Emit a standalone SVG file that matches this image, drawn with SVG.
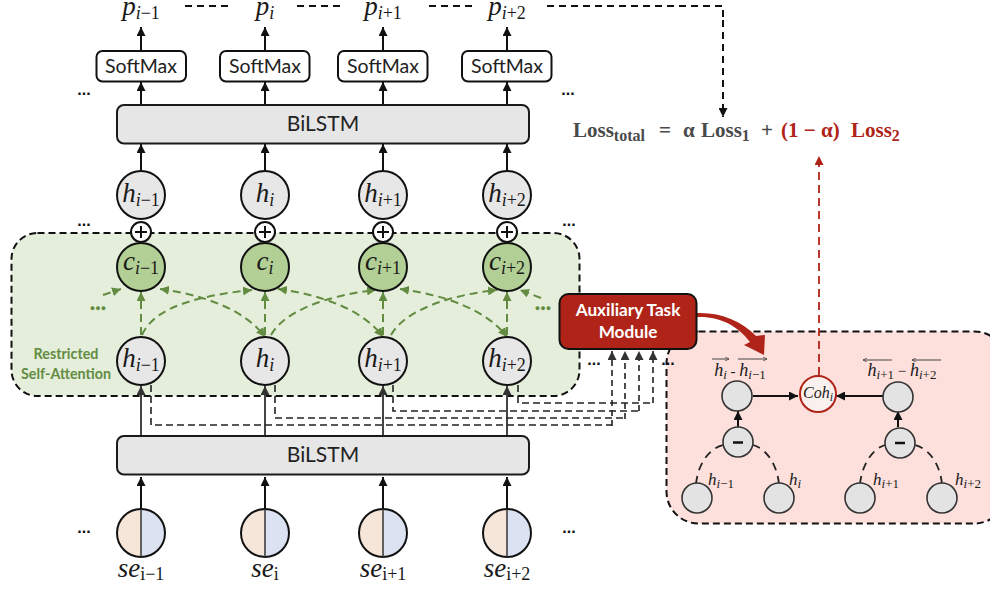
<svg xmlns="http://www.w3.org/2000/svg" width="990" height="592" viewBox="0 0 990 592">
<style>
.n{fill:#e7e7e7;stroke:#111;stroke-width:2}
.g{fill:#b2d095;stroke:#111;stroke-width:2}
.p{fill:#e3e3e3;stroke:#333;stroke-width:1.6}
.box{fill:#e6e6e6;stroke:#1a1a1a;stroke-width:2}
.sm{fill:#fff;stroke:#111;stroke-width:2}
.t{font-family:Lato,"Liberation Sans",sans-serif;fill:#222;text-anchor:middle}
.m{font-family:"Liberation Serif",serif;font-style:italic;font-size:27px;fill:#1a1a1a;text-anchor:middle}
.m tspan{font-size:18px}
.m .u{font-style:normal}
.q{font-size:18px}
.q tspan{font-size:13px}
.a{fill:none;stroke:#111;stroke-width:2;marker-end:url(#ah)}
.a2{fill:none;stroke:#444;stroke-width:2;marker-end:url(#ah2)}
.d{fill:none;stroke:#222;stroke-width:1.6;stroke-dasharray:7 4}
.da{fill:none;stroke:#222;stroke-width:1.6;stroke-dasharray:6 4;marker-end:url(#ah2)}
.k{fill:none;stroke:#111;stroke-width:2;stroke-dasharray:7 5}
.ga{fill:none;stroke:#638c42;stroke-width:2;stroke-dasharray:8 5;marker-end:url(#gh)}
.gb{marker-start:url(#gs)}
.dots{font-family:"Liberation Sans",sans-serif;font-weight:bold;font-size:16px;fill:#111;text-anchor:middle}
.gd{font-family:"Liberation Sans",sans-serif;font-size:9px;fill:#638c42;text-anchor:middle}
.l{font-family:"Liberation Serif",serif;font-weight:bold;font-size:21px;fill:#4a4a4a}
.l tspan{font-size:16px}
.rt{fill:#b02318}
.r{fill:#b02318}
.hl{stroke:#444;stroke-width:1;fill:none}
</style>
<defs>
<marker id="ah" markerUnits="userSpaceOnUse" markerWidth="10" markerHeight="9" refX="9" refY="4.500" orient="auto"><path d="M0 0L9 4.500L0 9z" fill="#111"/></marker>
<marker id="ah2" markerUnits="userSpaceOnUse" markerWidth="10" markerHeight="9" refX="9" refY="4.500" orient="auto"><path d="M0 0L9 4.500L0 9z" fill="#333"/></marker>
<marker id="gh" markerUnits="userSpaceOnUse" markerWidth="10" markerHeight="9" refX="9" refY="4.500" orient="auto"><path d="M0 0L9 4.500L0 9z" fill="#638c42"/></marker>
<marker id="gs" markerUnits="userSpaceOnUse" markerWidth="10" markerHeight="9" refX="9" refY="4.500" orient="auto-start-reverse"><path d="M0 0L9 4.500L0 9z" fill="#638c42"/></marker>
<marker id="rh" markerUnits="userSpaceOnUse" markerWidth="10" markerHeight="9" refX="9" refY="4.500" orient="auto"><path d="M0 0L9 4.500L0 9z" fill="#b02318"/></marker>
<marker id="vh" markerUnits="userSpaceOnUse" markerWidth="5" markerHeight="4" refX="4" refY="2" orient="auto"><path d="M0 0L4 2L0 4" fill="none" stroke="#444" stroke-width=".8"/></marker>
</defs>

<g id="pink-panel"><rect x="666.500" y="331.500" width="340" height="192" rx="32" fill="#fde0dc" stroke="#111" stroke-width="2" stroke-dasharray="7 4"/></g>
<g id="green-panel"><rect x="11.500" y="233" width="568" height="163" rx="26" fill="#e4eeda" stroke="#111" stroke-width="2" stroke-dasharray="7 4"/>
<text x="66" y="359" font-family="Lato,sans-serif" font-weight="bold" font-size="14.300" fill="#638c42" text-anchor="middle">Restricted</text>
<text x="66" y="379" font-family="Lato,sans-serif" font-weight="bold" font-size="14.300" fill="#638c42" text-anchor="middle">Self-Attention</text></g>

<g id="connectors">
<path class="a" d="M141 50V27"/><path class="a" d="M265 50V27"/><path class="a" d="M383 50V27"/><path class="a" d="M507 50V27"/>
<path class="a" d="M141 104V82"/><path class="a" d="M265 104V82"/><path class="a" d="M383 104V82"/><path class="a" d="M507 104V82"/>
<path class="a" d="M141 171V144"/><path class="a" d="M265 171V144"/><path class="a" d="M383 171V144"/><path class="a" d="M507 171V144"/>
<path class="a" d="M141 509V477"/><path class="a" d="M265 509V477"/><path class="a" d="M383 509V477"/><path class="a" d="M507 509V477"/>
<path class="a2" d="M141 435V386"/><path class="a2" d="M265 435V386"/><path class="a2" d="M383 435V386"/><path class="a2" d="M507 435V386"/>
<path class="k" d="M185 6H232M297 6H343M429 6H475M547 6H723V20"/>
<path class="k" d="M723 20V117" marker-end="url(#ah)"/>
<path d="M819 375V156" fill="none" stroke="#b02318" stroke-width="1.800" stroke-dasharray="8 5" marker-end="url(#rh)"/>
<path class="d" d="M518 385V403H653"/>
<path class="d" d="M393 385V411H639"/>
<path class="d" d="M275 385V418H625"/>
<path class="d" d="M151 385V425H612"/>
<path class="da" d="M612 426V351"/>
<path class="da" d="M625 419V351"/>
<path class="da" d="M639 411V351"/>
<path class="da" d="M653 403V351"/>
<path class="ga" d="M141 335V292"/>
<path class="ga" d="M265 335V292"/>
<path class="ga" d="M383 335V292"/>
<path class="ga" d="M507 335V292"/>
<path class="ga" d="M103 295L121 289"/>
<path class="ga" d="M541 298L520 290"/>
<path class="ga" d="M142 335C155 305 205 295 252 290"/>
<path class="ga" d="M271 335C285 310 330 295 376 290"/>
<path class="ga" d="M391 335C405 310 450 295 497 290"/>
<path class="ga gb" d="M160 289C205 295 245 310 265 337"/>
<path class="ga gb" d="M278 289C323 295 363 310 383 337"/>
<path class="ga gb" d="M400 289C445 295 487 310 507 337"/>
<path d="M753 396H798" class="a"/>
<path d="M883 396H836" class="a"/>
<path d="M738 427V411" class="a"/>
<path d="M898 427V411" class="a"/>
<g fill="none" stroke="#222" stroke-width="1.800" stroke-dasharray="8 6">
<path d="M696 484C698 465 708 449 723 445"/>
<path d="M779 484C777 465 767 449 753 445"/>
<path d="M860 484C862 465 872 449 885 445"/>
<path d="M942 484C940 465 930 449 915 445"/>
</g>
<path d="M697 317C720 316 738 326 750 342L744 345L764 355L765 335L756 336C742 321 720 312 697 313z" class="r"/>
</g>

<g id="top-labels">
<text class="m" x="141" y="15">p<tspan dy="4">i</tspan><tspan class="u">−1</tspan></text>
<text class="m" x="265" y="15">p<tspan dy="4">i</tspan></text>
<text class="m" x="383" y="15">p<tspan dy="4">i</tspan><tspan class="u">+1</tspan></text>
<text class="m" x="507" y="15">p<tspan dy="4">i</tspan><tspan class="u">+2</tspan></text>
</g>
<g id="softmax-1"><rect class="sm" x="96.500" y="51" width="89.500" height="30.500" rx="6"/><text class="t" x="141" y="73" font-size="19.500">SoftMax</text></g>
<g id="softmax-2"><rect class="sm" x="220" y="51" width="89.500" height="30.500" rx="6"/><text class="t" x="265" y="73" font-size="19.500">SoftMax</text></g>
<g id="softmax-3"><rect class="sm" x="338" y="51" width="89.500" height="30.500" rx="6"/><text class="t" x="383" y="73" font-size="19.500">SoftMax</text></g>
<g id="softmax-4"><rect class="sm" x="462" y="51" width="89.500" height="30.500" rx="6"/><text class="t" x="507" y="73" font-size="19.500">SoftMax</text></g>

<g id="bilstm-top"><rect class="box" x="117" y="105" width="412" height="38.500" rx="7"/><text class="t" x="323" y="131" font-size="21">BiLSTM</text></g>
<g id="bilstm-bottom"><rect class="box" x="117" y="436" width="412" height="38.500" rx="7"/><text class="t" x="323" y="462" font-size="21">BiLSTM</text></g>

<g id="h-top-1"><circle class="n" cx="141" cy="195" r="24"/><text class="m" x="141" y="202">h<tspan dy="4">i</tspan><tspan class="u">−1</tspan></text></g>
<g id="h-top-2"><circle class="n" cx="265" cy="195" r="24"/><text class="m" x="265" y="202">h<tspan dy="4">i</tspan></text></g>
<g id="h-top-3"><circle class="n" cx="383" cy="195" r="24"/><text class="m" x="383" y="202">h<tspan dy="4">i</tspan><tspan class="u">+1</tspan></text></g>
<g id="h-top-4"><circle class="n" cx="507" cy="195" r="24"/><text class="m" x="507" y="202">h<tspan dy="4">i</tspan><tspan class="u">+2</tspan></text></g>

<g id="plus-1"><circle class="sm" cx="141" cy="232" r="10"/><path d="M135 232H147M141 226V238" stroke="#111" stroke-width="2"/></g>
<g id="plus-2"><circle class="sm" cx="265" cy="232" r="10"/><path d="M259 232H271M265 226V238" stroke="#111" stroke-width="2"/></g>
<g id="plus-3"><circle class="sm" cx="383" cy="232" r="10"/><path d="M377 232H389M383 226V238" stroke="#111" stroke-width="2"/></g>
<g id="plus-4"><circle class="sm" cx="507" cy="232" r="10"/><path d="M501 232H513M507 226V238" stroke="#111" stroke-width="2"/></g>

<g id="c-1"><circle class="g" cx="141" cy="267" r="24"/><text class="m" x="141" y="270">c<tspan dy="4">i</tspan><tspan class="u">−1</tspan></text></g>
<g id="c-2"><circle class="g" cx="265" cy="267" r="24"/><text class="m" x="265" y="270">c<tspan dy="4">i</tspan></text></g>
<g id="c-3"><circle class="g" cx="383" cy="267" r="24"/><text class="m" x="383" y="270">c<tspan dy="4">i</tspan><tspan class="u">+1</tspan></text></g>
<g id="c-4"><circle class="g" cx="507" cy="267" r="24"/><text class="m" x="507" y="270">c<tspan dy="4">i</tspan><tspan class="u">+2</tspan></text></g>

<g id="h-1"><circle class="n" cx="141" cy="361" r="24"/><text class="m" x="141" y="367">h<tspan dy="4">i</tspan><tspan class="u">−1</tspan></text></g>
<g id="h-2"><circle class="n" cx="265" cy="361" r="24"/><text class="m" x="265" y="367">h<tspan dy="4">i</tspan></text></g>
<g id="h-3"><circle class="n" cx="383" cy="361" r="24"/><text class="m" x="383" y="367">h<tspan dy="4">i</tspan><tspan class="u">+1</tspan></text></g>
<g id="h-4"><circle class="n" cx="507" cy="361" r="24"/><text class="m" x="507" y="367">h<tspan dy="4">i</tspan><tspan class="u">+2</tspan></text></g>

<g id="se-1"><path d="M141 509A24 24 0 0 0 141 557z" fill="#f6e6da"/><path d="M141 509A24 24 0 0 1 141 557z" fill="#dbe3f2"/><circle cx="141" cy="533" r="24" fill="none" stroke="#111" stroke-width="2"/><path d="M141 509V557" stroke="#333" stroke-width="1.500"/><text class="m" x="141" y="577">se<tspan dy="3" class="u">i−1</tspan></text></g>
<g id="se-2"><path d="M265 509A24 24 0 0 0 265 557z" fill="#f6e6da"/><path d="M265 509A24 24 0 0 1 265 557z" fill="#dbe3f2"/><circle cx="265" cy="533" r="24" fill="none" stroke="#111" stroke-width="2"/><path d="M265 509V557" stroke="#333" stroke-width="1.500"/><text class="m" x="265" y="577">se<tspan dy="3" class="u">i</tspan></text></g>
<g id="se-3"><path d="M383 509A24 24 0 0 0 383 557z" fill="#f6e6da"/><path d="M383 509A24 24 0 0 1 383 557z" fill="#dbe3f2"/><circle cx="383" cy="533" r="24" fill="none" stroke="#111" stroke-width="2"/><path d="M383 509V557" stroke="#333" stroke-width="1.500"/><text class="m" x="383" y="577">se<tspan dy="3" class="u">i+1</tspan></text></g>
<g id="se-4"><path d="M507 509A24 24 0 0 0 507 557z" fill="#f6e6da"/><path d="M507 509A24 24 0 0 1 507 557z" fill="#dbe3f2"/><circle cx="507" cy="533" r="24" fill="none" stroke="#111" stroke-width="2"/><path d="M507 509V557" stroke="#333" stroke-width="1.500"/><text class="m" x="507" y="577">se<tspan dy="3" class="u">i+2</tspan></text></g>

<g id="ellipses">
<text class="dots" x="84" y="95">...</text><text class="dots" x="568" y="95">...</text>
<text class="dots" x="84" y="226">...</text><text class="dots" x="569" y="226">...</text>
<text class="dots" x="84" y="533">...</text><text class="dots" x="569" y="533">...</text>
<text class="dots" x="594" y="365">...</text><text class="dots" x="668" y="365">...</text>
<text class="gd" x="98" y="311">●●●</text><text class="gd" x="543" y="311">●●●</text>
</g>

<g id="aux-module"><rect x="559.500" y="294" width="137" height="55" rx="9" fill="#b02318" stroke="#111" stroke-width="2"/>
<text x="628" y="316" font-family="Lato,sans-serif" font-weight="bold" font-size="17.200" fill="#fff" text-anchor="middle">Auxiliary Task</text>
<text x="628" y="338" font-family="Lato,sans-serif" font-weight="bold" font-size="17.200" fill="#fff" text-anchor="middle">Module</text></g>

<g id="loss">
<text class="l" x="573" y="137">Loss<tspan dy="4">total</tspan></text>
<text class="l" x="659" y="137">=</text>
<text class="l" x="683" y="137">α</text>
<text class="l" x="701" y="137">Loss<tspan dy="4">1</tspan></text>
<text class="l" x="761" y="137">+</text>
<text class="l rt" x="781" y="137" style="fill:#b02318">(1 − α)</text>
<text class="l rt" x="851" y="137" style="fill:#b02318">Loss<tspan dy="4">2</tspan></text>
</g>

<g id="diff-left"><circle class="p" cx="737" cy="396" r="15"/>
<path class="hl" d="M712 359H729" marker-end="url(#vh)"/><path class="hl" d="M738 359H767" marker-end="url(#vh)"/>
<text class="m q" x="740" y="376">h<tspan dy="3">i</tspan><tspan dy="-3" class="u" style="font-size:15px"> - </tspan>h<tspan dy="3">i</tspan><tspan class="u">−1</tspan></text></g>
<g id="diff-right"><circle class="p" cx="898" cy="397" r="15"/>
<path class="hl" d="M892 360H863" marker-end="url(#vh)"/><path class="hl" d="M941 360H912" marker-end="url(#vh)"/>
<text class="m q" x="902" y="376">h<tspan dy="3">i</tspan><tspan class="u">+1</tspan><tspan dy="-3" class="u" style="font-size:15px"> − </tspan>h<tspan dy="3">i</tspan><tspan class="u">+2</tspan></text></g>
<g id="coh"><circle cx="818" cy="394" r="18" fill="#faf0ee" stroke="#b02318" stroke-width="2"/><text class="m q" x="818" y="398" style="font-size:16px">Coh<tspan dy="3" style="font-size:12px">i</tspan></text></g>
<g id="minus-left"><circle class="p" cx="738" cy="442" r="15"/><path d="M733 442.500H743" stroke="#111" stroke-width="2.500"/></g>
<g id="minus-right"><circle class="p" cx="900" cy="443" r="15"/><path d="M895 443H905" stroke="#111" stroke-width="2.500"/></g>
<g id="leaf-1"><circle class="p" cx="697" cy="498" r="15"/><text class="m q" x="721" y="485" style="font-size:17px">h<tspan dy="3">i</tspan><tspan class="u">−1</tspan></text></g>
<g id="leaf-2"><circle class="p" cx="779" cy="498" r="15"/><text class="m q" x="795" y="485" style="font-size:17px">h<tspan dy="3">i</tspan></text></g>
<g id="leaf-3"><circle class="p" cx="860" cy="498" r="15"/><text class="m q" x="886" y="485" style="font-size:17px">h<tspan dy="3">i</tspan><tspan class="u">+1</tspan></text></g>
<g id="leaf-4"><circle class="p" cx="942" cy="498" r="15"/><text class="m q" x="968" y="485" style="font-size:17px">h<tspan dy="3">i</tspan><tspan class="u">+2</tspan></text></g>
</svg>
